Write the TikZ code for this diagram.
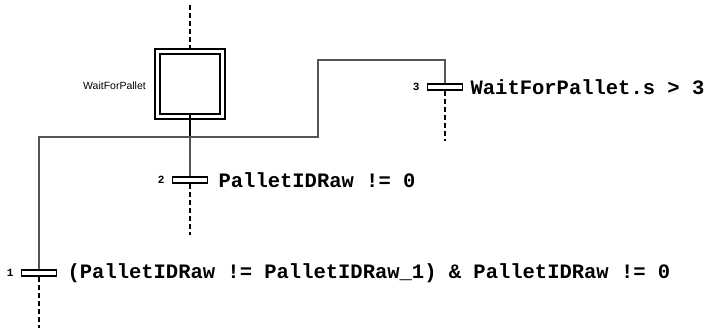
\documentclass[tikz,border=0pt]{standalone}
\usepackage{fontspec}
\usetikzlibrary{positioning}
\newfontfamily\condfont{Liberation Mono}
\newfontfamily\namefont{Liberation Sans}
\definecolor{sfcgray}{HTML}{555555}

\begin{document}
\begin{tikzpicture}[
    x=1pt, y=-1pt,
    link/.style={draw=sfcgray, line width=1.2pt},
    open/.style={draw=black, line width=2pt, dash pattern=on 5pt off 3pt},
    stepbox/.style={draw=black, line width=2.4pt, double, double distance=2.6pt,
      minimum size=65pt, inner sep=0pt},
    bar/.style={draw=black, fill=white, line width=1.8pt, minimum width=35pt,
      minimum height=6.5pt, inner sep=0pt},
    cond/.style={font=\condfont\bfseries\fontsize{20.5}{24}\selectfont, inner sep=0pt, anchor=west},
    num/.style={font=\condfont\bfseries\fontsize{11}{13}\selectfont, inner sep=0pt, anchor=east},
  ]
  \useasboundingbox (0,0) rectangle (710,329);

  % ----- step -----
  \node[stepbox] (wait) at (190,84) {};
  \node[font=\namefont\fontsize{10.5}{12}\selectfont, anchor=east, inner sep=0pt] (waitname) at (146,86) {WaitForPallet};
  \coordinate (in) at (190,5);
  \coordinate (div) at (190,137);

  % ----- transitions -----
  \node[bar] (t1) at (39,273) {};
  \node[bar] (t2) at (190,180) {};
  \node[bar] (t3) at (445,87) {};

  \node[num] (n1) at ([xshift=-7pt]t1.west) {1};
  \node[num] (n2) at ([xshift=-7pt]t2.west) {2};
  \node[num] (n3) at ([xshift=-7pt]t3.west) {3};

  \node[cond] (c1) at ([xshift=10pt]t1.east) {(PalletIDRaw != PalletIDRaw\_1) \& PalletIDRaw != 0};
  \node[cond] (c2) at ([xshift=10pt]t2.east) {PalletIDRaw != 0};
  \node[cond] (c3) at ([xshift=7pt]t3.east) {WaitForPallet.s > 3};

  % ----- wiring -----
  \coordinate (jog) at (318,137);
  \coordinate (top3) at (445,60);
  \coordinate (out1) at (39,328);
  \coordinate (out2) at (190,235);
  \coordinate (out3) at (445,141);

  \draw[open] (in) -- (wait.north);
  \draw[draw=black, line width=2pt] ([yshift=3pt]wait.south) -- (div);
  \draw[link] (t1.north) |- (jog) |- (top3) -- (t3.north);
  \draw[link] (div) -- (t2.north);
  \draw[open] (t1.south) -- (out1);
  \draw[open] (t2.south) -- (out2);
  \draw[open] (t3.south) -- (out3);

\end{tikzpicture}
\end{document}
